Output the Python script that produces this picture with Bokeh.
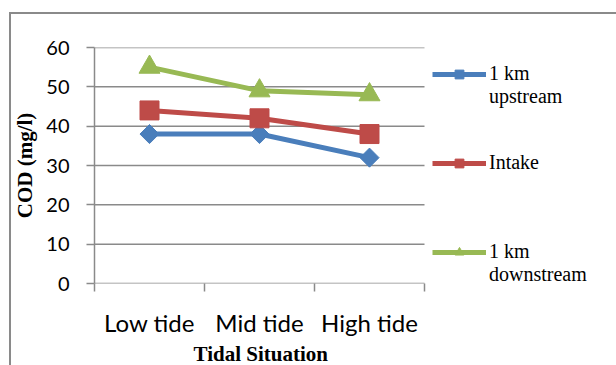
import math
from bokeh.plotting import figure
from bokeh.models import Range1d, FixedTicker, Legend, LegendItem, Title
from bokeh.embed import file_html
from bokeh.resources import INLINE

categories = ["Low tide", "Mid tide", "High tide"]
upstream = [38, 38, 32]
intake = [44, 42, 38]
downstream = [55, 49, 48]
series_labels = [" \n1 km\nupstream", "Intake", " \n1 km\ndownstream"]
y_ticks = [0, 10, 20, 30, 40, 50, 60]

colors = ["#4A7EBB", "#BE4B48", "#98B954"]
GRAY = "#8a8a8a"

n = len(categories)
xs = [i + 0.5 for i in range(n)]
# frame spans the plot area plus the legend area to its right
X_END = 522 / 110

p = figure(width=616, height=365, output_backend="svg", toolbar_location=None,
           x_range=Range1d(0, X_END), y_range=Range1d(y_ticks[0], y_ticks[-1]),
           min_border_left=94, min_border_right=0, min_border_top=47, min_border_bottom=82,
           y_axis_label="COD (mg/l)")
# chart-area border (top and left edges) painted behind a transparent canvas
p.styles = {
    "background-color": "white",
    "background-image": f"linear-gradient({GRAY}, {GRAY}), linear-gradient({GRAY}, {GRAY})",
    "background-size": "2px 400px, 700px 2px",
    "background-position": "9px 12px, 9px 12px",
    "background-repeat": "no-repeat",
}
p.outline_line_color = None
p.background_fill_alpha = 0
p.border_fill_alpha = 0
p.xgrid.visible = False
p.ygrid.visible = False

# horizontal gridlines limited to the category area
p.segment(x0=[0] * len(y_ticks), y0=y_ticks, x1=[n] * len(y_ticks), y1=y_ticks,
          line_color=GRAY, line_width=1.5)

# y axis
ya = p.yaxis[0]
ya.ticker = FixedTicker(ticks=y_ticks)
ya.axis_line_color = GRAY
ya.axis_line_width = 1.5
ya.major_tick_line_color = GRAY
ya.major_tick_line_width = 1.5
ya.major_tick_out = 8
ya.major_tick_in = 0
ya.minor_tick_line_color = None
ya.major_label_text_font = "Lato"
ya.major_label_text_font_size = "20px"
ya.major_label_text_color = "black"
ya.major_label_standoff = 17
ya.axis_label_text_font = "Liberation Serif"
ya.axis_label_text_font_style = "bold"
ya.axis_label_text_font_size = "21px"
ya.axis_label_text_color = "black"
ya.axis_label_standoff = 6

# x axis: labels at category centres, ticks at category boundaries
xa = p.xaxis[0]
xa.ticker = FixedTicker(ticks=xs, minor_ticks=list(range(n + 1)))
xa.major_label_overrides = {x: c for x, c in zip(xs, categories)}
xa.axis_line_color = None
xa.major_tick_line_color = None
xa.major_tick_out = 0
xa.major_tick_in = 0
xa.minor_tick_line_color = GRAY
xa.minor_tick_line_width = 1.5
xa.minor_tick_out = 8
xa.minor_tick_in = 0
xa.major_label_text_font = "Lato"
xa.major_label_text_font_size = "24px"
xa.major_label_text_color = "black"
xa.major_label_standoff = 16

xt = Title(text="Tidal Situation", align="left", offset=99, standoff=0,
           text_font="Liberation Serif", text_font_style="bold",
           text_font_size="21px", text_color="black")
p.add_layout(xt, "below")

series = [upstream, intake, downstream]
marker_specs = [("square", 13.5, math.pi / 4), ("square", 19, 0), ("triangle", 21, 0)]

items = []
for vals, col, (mk, sz, ang), lab in zip(series, colors, marker_specs, series_labels):
    ln = p.line(xs, vals, line_color=col, line_width=5)
    sc = p.scatter(xs, vals, marker=mk, size=sz, angle=ang, fill_color=col, line_color=col)
    items.append(LegendItem(label=lab, renderers=[ln, sc]))

lg = Legend(items=items, location=(338, -3), orientation="vertical",
            padding=0, margin=0, border_line_color=None, background_fill_alpha=0,
            glyph_width=54, glyph_height=22, label_standoff=3, spacing=43,
            label_text_font="Liberation Serif", label_text_font_size="20px",
            label_text_color="black")
p.add_layout(lg, "center")

open("out.html", "w").write(file_html(p, INLINE))
